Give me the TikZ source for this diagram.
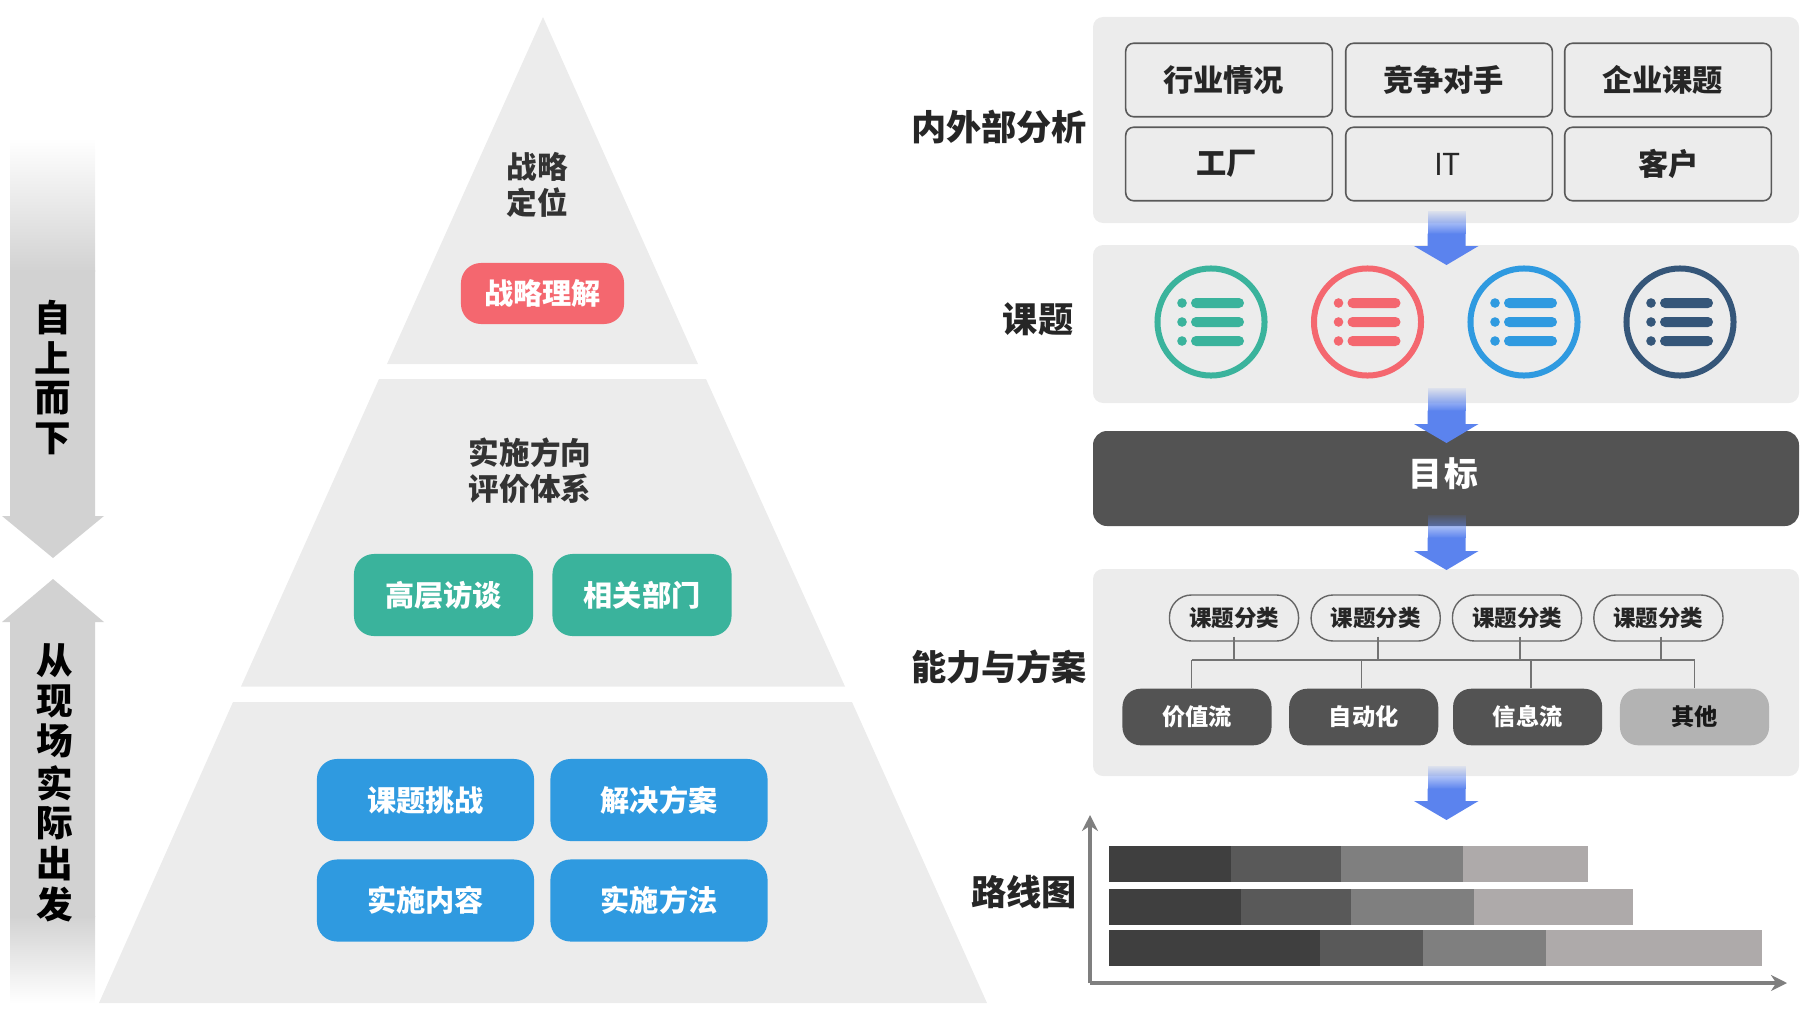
\documentclass[tikz,border=0pt]{standalone}
\usepackage{fontspec}
\setmainfont{Noto Sans CJK SC}
\usetikzlibrary{fadings,arrows.meta}
\definecolor{panelgray}{HTML}{ECECEC}
\definecolor{arrowgray}{HTML}{D2D2D2}
\definecolor{flowblue}{HTML}{5B83EE}
\definecolor{redpill}{HTML}{F4676F}
\definecolor{tealpill}{HTML}{3AB39C}
\definecolor{bluepill}{HTML}{2F9AE0}
\definecolor{navyring}{HTML}{355679}
\definecolor{darkbox}{HTML}{535353}
\definecolor{lightbox}{HTML}{B3B3B3}
\definecolor{barone}{HTML}{3F3F3F}
\definecolor{bartwo}{HTML}{595959}
\definecolor{barthree}{HTML}{7F7F7F}
\definecolor{barfour}{HTML}{AEAAAA}
\tikzfading[name=fadeblue, top color=transparent!90, bottom color=transparent!0]
\begin{document}
\begin{tikzpicture}[x=0.01cm,y=-0.01cm,>=stealth, line join=round,
	seclabel/.style={font=\bfseries\fontsize{10pt}{12pt}\selectfont, text=black!85},
	sidechar/.style={font=\bfseries\fontsize{10.4pt}{12pt}\selectfont, text=black},
	pyrtext/.style={font=\bfseries\fontsize{8.7pt}{10.2pt}\selectfont, text=black!80, align=center},
	pill/.style={rounded corners=0.2cm, text=white, font=\bfseries\fontsize{8.3pt}{10pt}\selectfont, inner sep=0pt},
	topicbox/.style={draw=black!65, line width=0.45pt, rounded corners=0.08cm, minimum width=2.065cm, minimum height=0.735cm, inner sep=0pt, font=\bfseries\fontsize{8.6pt}{10pt}\selectfont, text=black!85},
	sortbox/.style={draw=black!60, line width=0.4pt, rounded corners=0.22cm, minimum width=1.29cm, minimum height=0.46cm, inner sep=0pt, font=\bfseries\fontsize{6.4pt}{8pt}\selectfont, text=black!85},
	capbox/.style={rounded corners=0.18cm, minimum width=1.49cm, minimum height=0.565cm, inner sep=0pt, font=\bfseries\fontsize{6.6pt}{8pt}\selectfont},
	wire/.style={draw=black!55, line width=0.5pt},
	axisline/.style={draw=barthree, line width=1.2pt, -{Stealth[length=0.16cm,width=0.16cm]}}]
	\useasboundingbox (0,-1) rectangle (1800,1011);
	% pyramid
	\fill[panelgray] (543,16) -- (698,363) -- (387,363) -- cycle;
	\fill[panelgray] (379,378) -- (706,378) -- (845,685.5) -- (241,685.5) -- cycle;
	\fill[panelgray] (233,701) -- (852,701) -- (987,1002) -- (99,1002) -- cycle;
	\node[pyrtext] (strategy) at (537,184) {战略\\定位};
	\node[pyrtext] (direction) at (530,470) {实施方向\\评价体系};
	\node[pill, fill=redpill, minimum width=1.63cm, minimum height=0.61cm] (redkey) at (542.5,292.5) {战略理解};
	\foreach \x/\t/\n in {443.5/高层访谈/senior,642/相关部门/dept}{
		\node[pill, fill=tealpill, minimum width=1.79cm, minimum height=0.82cm] (\n) at (\x,594) {\t};
	}
	\foreach \x/\y/\t/\n in {425.5/799/课题挑战/issue,659/799/解决方案/solution,425.5/899.5/实施内容/content,659/899.5/实施方法/method}{
		\node[pill, fill=bluepill, minimum width=2.17cm, minimum height=0.82cm] (\n) at (\x,\y) {\t};
	}
	% side arrows
	\shade[top color=white, bottom color=arrowgray] (10,137) rectangle (95,270);
	\fill[arrowgray] (10,269) -- (95,269) -- (95,515) -- (104,515) -- (53,557) -- (2,515) -- (10,515) -- cycle;
	\shade[top color=arrowgray, bottom color=white] (10,915) rectangle (95,1002);
	\fill[arrowgray] (53,578) -- (104,621) -- (95,621) -- (95,916) -- (10,916) -- (10,621) -- (2,621) -- cycle;
	\foreach \y/\t [count=\i] in {317/自,357/上,397/而,438/下}{
		\node[sidechar] (downch\i) at (53,\y) {\t};
	}
	\foreach \y/\t [count=\i] in {660/从,700/现,740/场,782/实,822/际,863/出,903/发}{
		\node[sidechar] (upch\i) at (54.5,\y) {\t};
	}
	% panels
	\fill[panelgray, rounded corners=0.1cm] (1093,16) rectangle (1799,222);
	\fill[panelgray, rounded corners=0.1cm] (1093,244) rectangle (1799,402);
	\fill[panelgray, rounded corners=0.1cm] (1093,568) rectangle (1799,775);
	\fill[darkbox, rounded corners=0.14cm] (1093,430) rectangle (1799,525);
	\node[font=\bfseries\fontsize{9.6pt}{12pt}\selectfont, text=white] (goal) at (1443,473) {目\kern0.6pt标};
	\foreach \y/\t in {126/内外部分析,666/能力与方案}{
		\node[seclabel] (lab\y) at (999,\y) {\t};
	}
	\node[seclabel] (labtopic) at (1038,318) {课题};
	\node[seclabel] (labroute) at (1024,891) {路线图};
	\foreach \x/\y/\t/\n/\k/\r in {1229/79/行业情况/industry/3.0/-0.6,1449/79/竞争对手/rival/3.0/-0.6,1668/79/企业课题/company/3.0/-0.6,1229/163/工厂/factory/1.2/-0.3,1449/163/{\mdseries IT}/itbox/0.8/0,1668/163/客户/client/-0.2/0}{
		\node[topicbox] (\n) at (\x,\y) {\raisebox{\r pt}{\t}\kern\k pt};
	}
	% rings
	\foreach \x/\c in {1211/tealpill,1367.5/redpill,1524/bluepill,1680/navyring}{
		\draw[\c, line width=0.06cm] (\x,321) circle (0.535cm);
		\foreach \y in {302,321,340}{
			\fill[\c] (\x-29,\y) circle (0.048cm);
			\fill[\c, rounded corners=0.05cm] (\x-20,\y-5) rectangle (\x+33,\y+5);
		}
	}
	% blue arrows
	\foreach \t/\b in {210/245,387/423,514/550,765/800}{
		\fill[flowblue, path fading=fadeblue] (1427.5,\t) rectangle (1465.5,\t+23);
		\fill[flowblue] (1427.5,\t+22.5) -- (1465.5,\t+22.5) -- (1465.5,\b) -- (1478.5,\b) -- (1446.5,\b+19) -- (1414,\b) -- (1427.5,\b) -- cycle;
	}
	% classes
	\foreach \x [count=\i] in {1234,1375.7,1517,1658.4}{
		\node[sortbox] (sort\i) at (\x,617) {课题分类};
	}
	\foreach \x/\t/\n in {1197/价值流/value,1363.7/自动化/auto,1527.6/信息流/info}{
		\node[capbox, fill=darkbox, text=white] (\n) at (\x,716) {\t};
	}
	\node[capbox, fill=lightbox, text=black!90] (other) at (1694.5,716) {其他};
	\coordinate (busleft) at ([xshift=-0.055cm]value.north |- 0,659);
	\coordinate (busright) at (other.north |- 0,659);
	\foreach \n/\s in {sort1/0,sort2/0.023,sort3/0.028,sort4/0.029}{
		\draw[wire] ([xshift=\s cm,yshift=0.05cm]\n.south) -- ([xshift=\s cm]\n.south |- busleft);
	}
	\foreach \n/\s in {value/-0.055,auto/-0.023,info/0.034,other/0}{
		\draw[wire] ([xshift=\s cm]\n.north) -- ([xshift=\s cm]\n.north |- busleft);
	}
	\draw[wire] (busleft) -- (busright);
	% roadmap
	\foreach \y/\a/\b/\c/\d in {844.5/1230.6/1341.2/1463.4/1588.3,887.5/1240.7/1351.3/1474/1632.8,929/1320/1423/1545.6/1761.8}{
		\fill[barone] (1109.4,\y) rectangle (\a,\y+36);
		\fill[bartwo] (\a,\y) rectangle (\b,\y+36);
		\fill[barthree] (\b,\y) rectangle (\c,\y+36);
		\fill[barfour] (\c,\y) rectangle (\d,\y+36);
	}
	\coordinate (origin) at (1090,982);
	\coordinate (ytip) at (1090,814);
	\coordinate (xtip) at (1787,982);
	\draw[axisline] (origin) -- (ytip);
	\draw[axisline] (origin) -- (xtip);
\end{tikzpicture}
\end{document}
